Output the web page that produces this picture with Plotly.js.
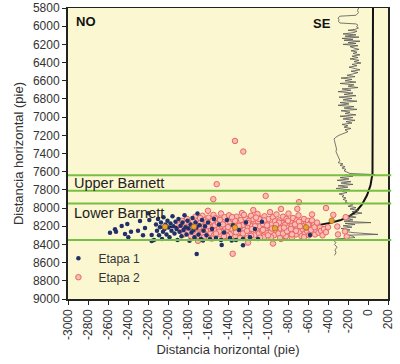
<!DOCTYPE html>
<html><head><meta charset="utf-8">
<script src="https://cdn.plot.ly/plotly-3.0.1.min.js"></script>
<style>html,body{margin:0;padding:0;background:#fff}#chart{width:400px;height:364px}</style>
</head><body><div id="chart"></div>
<script>
// ---- Data ----
const xTickVals = [-3000,-2800,-2600,-2400,-2200,-2000,-1800,-1600,-1400,-1200,-1000,-800,-600,-400,-200,0,200];
const yTickVals = [5800,6000,6200,6400,6600,6800,7000,7200,7400,7600,7800,8000,8200,8400,8600,8800,9000];
const formationTops = [7640, 7810, 7950, 8350];
const zoneLabels = ["Upper Barnett", "Lower Barnett"];
const zoneLabelDepths = [7725, 8050];

// well trajectory (horizontal distance, depth)
const wellX = [50, 50, 52, 45, 25, -10, -60, -120, -200, -280, -370, -450, -550, -650, -900, -1300, -1750, -2050, -2100];
const wellY = [5800, 7000, 7500, 7620, 7750, 7860, 7960, 8040, 8100, 8135, 8160, 8180, 8200, 8208, 8215, 8215, 8208, 8205, 8205];

// perforation stage points
const perfX = [-2030, -1740, -1330, -930, -620, -363];
const perfY = [8205, 8205, 8215, 8222, 8212, 8140];

// log trace drawn on right side
const logDepth = [5790,5810,5830,5850,5870,5880,5890,5910,5930,5950,5965,5975,5990,6005,6020,6035,6045,6055,6070,6085,6095,6110,6120,6135,6145,6155,6165,6180,6190,6200,6215,6225,6240,6255,6270,6285,6300,6315,6330,6345,6360,6375,6390,6405,6420,6435,6450,6465,6480,6495,6510,6525,6540,6555,6570,6585,6600,6615,6630,6645,6660,6675,6690,6705,6720,6735,6750,6765,6780,6795,6810,6825,6840,6855,6870,6885,6900,6915,6930,6945,6960,6975,6990,7005,7020,7035,7050,7065,7080,7095,7110,7125,7140,7160,7180,7200,7220,7240,7260,7290,7320,7350,7380,7410,7440,7460,7480,7500,7515,7530,7545,7560,7575,7590,7605,7620,7632,7638,7650,7665,7680,7695,7710,7725,7740,7755,7770,7785,7800,7815,7830,7845,7860,7875,7890,7905,7920,7935,7950,7965,7980,7995,8010,8025,8040,8055,8070,8085,8100,8115,8130,8145,8160,8168,8180,8195,8210,8225,8240,8255,8270,8290,8298,8310,8325,8340,8360,8380,8400,8430,8460,8490,8520];
const logValue = [-90,-95,-105,-95,-110,-120,-280,-300,-290,-295,-280,-120,-100,-115,-95,-130,-200,-110,-140,-250,-120,-230,-90,-260,-150,-240,-80,-200,-120,-250,-100,-180,-140,-90,-170,-110,-150,-80,-160,-100,-180,-90,-140,-70,-160,-110,-190,-120,-80,-170,-100,-150,-210,-130,-270,-160,-230,-120,-280,-140,-200,-100,-260,-170,-300,-150,-240,-120,-290,-160,-250,-110,-280,-190,-300,-140,-240,-110,-270,-180,-230,-120,-280,-150,-250,-130,-220,-160,-260,-200,-240,-170,-230,-200,-250,-290,-320,-340,-335,-330,-325,-315,-320,-310,-300,-290,-280,-300,-250,-280,-230,-260,-220,-240,-200,-180,70,-230,-150,-280,-190,-310,-170,-270,-150,-300,-200,-320,-180,-260,-210,-290,-240,-260,-220,-250,-210,-230,-190,-150,-200,-120,-180,-90,-160,-60,-140,-200,-120,-220,-150,-240,30,-230,-130,-250,-160,-270,-180,-240,-150,100,-200,-150,-130,-330,-340,-320,-335,-310,-330,-320,-335];

// Etapa 1 microseismic events
const e1X = [-2580,-2530,-2520,-2463,-2430,-2407,-2370,-2397,-2300,-2280,-2250,-2230,-2197,-2187,-2163,-2163,-2140,
 -2120,-2110,-2100,-2090,-2080,-2070,-2060,-2050,-2045,-2035,-2025,-2015,-2005,-1995,-1985,-1975,-1965,-1955,-1945,-1935,-1925,-1915,-1905,-1895,-1885,-1875,-1865,-1855,-1845,-1835,-1825,-1815,-1805,-1795,-1785,-1775,-1765,-1755,-1745,-1735,-1725,-1715,-1705,-1695,-1685,-1670,-1660,-1645,-1630,-1615,-1600,-1580,-1560,-1540,-1520,-1490,-1470,-1440,-1410,-1380,-1350,-1320,-1290,-1250,-1220,-1180,-1130,-1100,-1060,
 -1713,-1650,-1463,-1363,-1250,-580];
const e1Y = [8271,8234,8260,8198,8286,8176,8260,8322,8250,8143,8300,8220,8058,8132,8297,8363,8352,
 8180,8250,8120,8300,8210,8160,8340,8260,8100,8230,8180,8290,8140,8215,8320,8170,8250,8090,8200,8280,8150,8230,8350,8120,8260,8195,8310,8160,8240,8080,8210,8290,8140,8225,8360,8180,8270,8110,8240,8320,8160,8215,8060,8290,8190,8340,8130,8250,8200,8300,8160,8340,8230,8120,8330,8180,8350,8270,8130,8330,8190,8350,8240,8340,8160,8320,8230,8340,8150,
 8505,8357,8405,8357,8410,8297];

// Etapa 2 microseismic events
const e2X = [-1885,-1870,-1860,-1845,-1830,-1810,-1795,-1785,-1770,-1760,-1750,-1735,-1725,-1715,-1705,-1700,-1690,-1675,-1665,-1655,-1645,-1640,
 -1630,-1620,-1610,-1600,-1595,-1585,-1575,-1565,-1555,-1545,-1540,-1530,-1520,-1510,-1500,-1490,-1480,-1470,-1465,-1455,-1445,-1435,-1425,-1420,
 -1410,-1400,-1390,-1380,-1375,-1365,-1355,-1345,-1335,-1325,-1315,-1310,-1300,-1290,-1280,-1270,-1260,-1255,-1245,-1235,-1225,-1215,-1205,-1200,
 -1190,-1180,-1170,-1160,-1150,-1145,-1135,-1125,-1115,-1105,-1100,-1090,-1080,-1070,-1060,-1050,-1040,-1035,-1025,-1015,-1005,-995,-985,-980,
 -970,-960,-950,-940,-930,-925,-915,-905,-895,-885,-875,-870,-860,-850,-840,-830,-820,-815,-805,-795,-785,-775,-765,-760,
 -750,-740,-730,-720,-710,-705,-695,-685,-675,-665,-655,-650,-640,-630,-620,-610,-600,-590,-580,-570,-560,-550,-540,-530,
 -520,-505,-495,-480,-470,-455,-440,-420,-400,
 -1690,-1650,-1610,-1570,-1530,-1490,-1450,-1410,-1370,-1330,-1290,-1250,-1210,-1170,-1130,-1090,-1050,-1010,-970,-930,-890,-850,-810,-770,-730,-690,-650,-610,-570,-535,
 -1680,-1640,-1600,-1560,-1520,-1480,-1440,-1400,-1360,-1320,-1280,-1240,-1200,-1160,-1120,-1080,-1040,-1000,-960,-920,-880,-840,-800,-760,-720,-680,-640,-600,-560,-510,
 -1330,-1247,-1513,-1547,-1023,-690,-707,-347,-223,-420,-1147,-230,-213,-1353,-307,-1600,-870,-560,-1700,-950,-1200,-300];
const e2Y = [8180,8235,8140,8290,8205,8120,8260,8175,8310,8215,8150,8245,8095,8190,8280,8135,8225,8160,8300,8085,8205,8255,
 8130,8185,8320,8240,8105,8170,8275,8210,8140,8075,8300,8190,8245,8115,8165,8225,8290,8060,8195,8140,8260,8100,8215,8320,
 8175,8240,8080,8150,8285,8200,8120,8250,8175,8310,8095,8230,8160,8270,8205,8130,8055,8295,8185,8240,8110,8165,8330,8215,
 8140,8270,8085,8195,8250,8125,8300,8170,8225,8065,8145,8280,8200,8115,8250,8175,8320,8090,8230,8155,8275,8120,8205,8045,
 8260,8180,8100,8300,8145,8240,8070,8195,8280,8135,8225,8340,8165,8095,8250,8185,8310,8120,8215,8060,8270,8150,8200,8325,
 8110,8240,8175,8290,8135,8220,8080,8260,8190,8310,8150,8235,8120,8280,8175,8250,8140,8300,8200,8160,8265,8225,8180,8290,
 8240,8195,8270,8215,8250,8300,8230,8265,8210,
 8210,8275,8150,8230,8115,8260,8180,8305,8225,8140,8195,8280,8250,8305,8200,8120,8240,8190,8320,8210,8160,8280,8255,8230,8180,8150,8200,8215,8240,8210,
 8110,8320,8200,8335,8280,8130,8310,8210,8100,8265,8330,8075,8165,8230,8105,8325,8135,8300,8225,8185,8330,8215,8140,8290,8250,8200,8320,8185,8135,8160,
 7262,7379,7737,7902,7866,7935,8009,8075,8100,8000,8022,8258,8313,8503,8203,8030,8010,8070,8360,8390,8380,8290];

// ---- Traces ----
const traces = [
  {x: wellX, y: wellY, type:'scatter', mode:'lines', line:{color:'#111', width:2}, showlegend:false, hoverinfo:'skip'},
  {x: logValue, y: logDepth, type:'scatter', mode:'lines', line:{color:'#555', width:0.8}, showlegend:false, hoverinfo:'skip'},
  {x: e2X, y: e2Y, type:'scatter', mode:'markers', name:'Etapa 2',
   marker:{symbol:'circle', size:5.5, color:'#f8bcb4', line:{color:'#ea6664', width:1}}},
  {x: e1X, y: e1Y, type:'scatter', mode:'markers', name:'Etapa 1',
   marker:{symbol:'circle', size:4.5, color:'#22306a', line:{width:0}}},
  {x: perfX, y: perfY, type:'scatter', mode:'markers', showlegend:false,
   marker:{symbol:'circle', size:5.5, color:'#f0a030', line:{color:'#8a5a10', width:0.6}}}
];

const shapes = formationTops.map(d => ({type:'line', xref:'paper', x0:0, x1:1.01, yref:'y', y0:d, y1:d,
  line:{color:'#78c043', width:2}}));

const annotations = [
  {xref:'paper', yref:'paper', x:0.02, y:0.985, xanchor:'left', yanchor:'top', text:'<b>NO</b>', showarrow:false,
   font:{family:'Liberation Sans, Arial, sans-serif', size:13, color:'#111'}},
  {xref:'paper', yref:'paper', x:0.828, y:0.978, xanchor:'right', yanchor:'top', text:'<b>SE</b>', showarrow:false,
   font:{family:'Liberation Sans, Arial, sans-serif', size:13, color:'#111'}}
].concat(zoneLabels.map((t,i)=>({xref:'paper', yref:'y', x:0.012, y:zoneLabelDepths[i], xanchor:'left', yanchor:'middle',
   text:t, showarrow:false, font:{family:'Liberation Sans, Arial, sans-serif', size:14.5, color:'#222'}})));

const layout = {
  width:400, height:364,
  margin:{l:68, r:12, t:8, b:65},
  paper_bgcolor:'#ffffff', plot_bgcolor:'#fbf7d1',
  font:{family:'Liberation Sans, Arial, sans-serif', size:12, color:'#333'},
  showlegend:true,
  legend:{x:-0.03, y:0.19, xanchor:'left', yanchor:'top', bgcolor:'rgba(0,0,0,0)', traceorder:'reversed',
    font:{size:12, color:'#333'}, tracegroupgap:0, itemwidth:30},
  xaxis:{range:[-3000,200], tickvals:xTickVals, ticktext:xTickVals.map(String), tickangle:-90,
    showgrid:false, zeroline:false, showline:true, mirror:true, linecolor:'#222', linewidth:1.5,
    ticks:'outside', ticklen:4, tickcolor:'#222', tickfont:{size:12, color:'#333'},
    title:{text:'Distancia horizontal (pie)', font:{size:13, color:'#333'}, standoff:6}},
  yaxis:{range:[9000,5800], tickvals:yTickVals, ticktext:yTickVals.map(String),
    showgrid:false, zeroline:false, showline:true, mirror:true, linecolor:'#222', linewidth:2,
    ticks:'outside', ticklen:4, tickcolor:'#222', tickfont:{size:12, color:'#333'},
    title:{text:'Distancia horizontal (pie)', font:{size:13, color:'#333'}, standoff:6}},
  shapes:shapes, annotations:annotations
};

Plotly.newPlot('chart', traces, layout, {staticPlot:true, displayModeBar:false});
</script></body></html>
